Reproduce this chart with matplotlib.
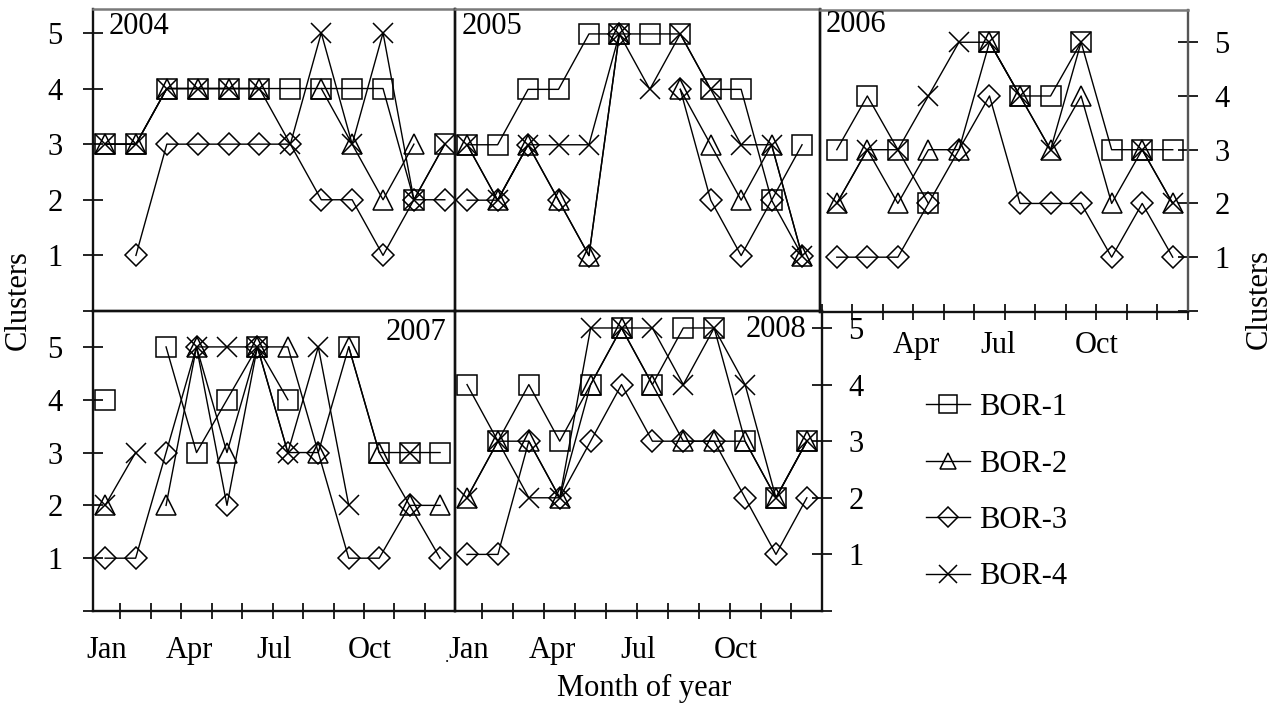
import numpy as np
import matplotlib
matplotlib.use("Agg")
import matplotlib.pyplot as plt
from matplotlib.lines import Line2D

plt.rcParams['font.family'] = ['Liberation Serif', 'DejaVu Serif']

nan = np.nan

# ---------------- data ----------------
months = [1, 2, 3, 4, 5, 6, 7, 8, 9, 10, 11, 12]
series_names = ['BOR-1', 'BOR-2', 'BOR-3', 'BOR-4']
years = ['2004', '2005', '2006', '2007', '2008']
month_labels = ['Jan', 'Apr', 'Jul', 'Oct']
cluster_ticks = [0, 1, 2, 3, 4, 5]
cluster_labels = ['', '1', '2', '3', '4', '5']

bor1_2004 = [3, 3, 4, 4, 4, 4, 4, 4, 4, 4, 2, 3]
bor2_2004 = [3, 3, 4, 4, 4, 4, nan, 4, 3, 2, 3, nan]
bor3_2004 = [nan, 1, 3, 3, 3, 3, 3, 2, 2, 1, 2, 2]
bor4_2004 = [3, 3, 4, 4, 4, 4, 3, 5, 3, 5, 2, 3]

bor1_2005 = [3, 3, 4, 4, 5, 5, 5, 5, 4, 4, 2, 3]
bor2_2005 = [3, 2, 3, 2, 1, 5, nan, 4, 3, 2, 3, 1]
bor3_2005 = [2, 2, 3, 2, 1, 5, nan, 4, 2, 1, 2, 1]
bor4_2005 = [3, 2, 3, 3, 3, 5, 4, 5, 4, 3, 3, 1]

bor1_2006 = [3, 4, 3, 2, nan, 5, 4, 4, 5, 3, 3, 3]
bor2_2006 = [2, 3, 2, 3, 3, 5, 4, 3, 4, 2, 3, 2]
bor3_2006 = [1, 1, 1, 2, 3, 4, 2, 2, 2, 1, 2, 1]
bor4_2006 = [2, 3, 3, 4, 5, 5, 4, 3, 5, nan, 3, 2]

bor1_2007 = [4, nan, 5, 3, 4, 5, 4, nan, 5, 3, 3, 3]
bor2_2007 = [2, nan, 2, 5, 3, 5, 5, 3, 5, 3, 2, 2]
bor3_2007 = [1, 1, 3, 5, 2, 5, 3, 3, 1, 1, 2, 1]
bor4_2007 = [2, 3, nan, 5, 5, 5, 3, 5, 2, nan, 3, nan]

bor1_2008 = [4, 3, 4, 3, 4, 5, 4, 5, 5, 3, 2, 3]
bor2_2008 = [2, 3, 3, 2, 4, 5, 4, 3, 3, 3, 2, 3]
bor3_2008 = [1, 1, 3, 2, 3, 4, 3, 3, 3, 2, 1, 2]
bor4_2008 = [2, 3, 2, 2, 5, 5, 5, 4, 5, 4, 2, 3]

data = {
    '2004': [bor1_2004, bor2_2004, bor3_2004, bor4_2004],
    '2005': [bor1_2005, bor2_2005, bor3_2005, bor4_2005],
    '2006': [bor1_2006, bor2_2006, bor3_2006, bor4_2006],
    '2007': [bor1_2007, bor2_2007, bor3_2007, bor4_2007],
    '2008': [bor1_2008, bor2_2008, bor3_2008, bor4_2008],
}

# ---------------- styling / layout ----------------
W, H = 1282, 710
FS = 22
fig = plt.figure(figsize=(W / 100, H / 100), dpi=100)


def fx(px):
    return px / W


def fy(py):
    return 1 - py / H


# pixel boxes: x0, x1, ytop, ybot
boxes = {
    '2004': (93, 455, 9, 311),
    '2005': (455, 820, 9, 311),
    '2006': (820, 1188, 10, 312),
    '2007': (93, 455, 311, 611),
    '2008': (455, 822, 311, 611),
}
xlims = {
    '2004': (0.61, 12.33),
    '2005': (0.60, 12.59),
    '2006': (0.45, 12.50),
    '2007': (0.60, 12.49),
    '2008': (0.61, 12.49),
}
ylims = {
    '2004': (0.0, 5.43),
    '2005': (0.0, 5.45),
    '2006': (-0.02, 5.60),
    '2007': (0.0, 5.68),
    '2008': (0.01, 5.30),
}
year_pos = {
    '2004': (139, 26),
    '2005': (492, 26),
    '2006': (856, 25),
    '2007': (416, 332),
    '2008': (776, 329),
}
bottom_label_pos = [1.05, 3.78, 6.54, 9.68]
top_label_pos = [3.62, 6.28, 9.51]

markers = ['s', '^', 'D', 'x']
msizes = [15, 14, 11.5, 15]
LW = 1.0
MEW = 1.1
SPINE_LW = 1.7

axes = {}
for yr in years:
    x0, x1, yt, yb = boxes[yr]
    ax = fig.add_axes([fx(x0), fy(yb), (x1 - x0) / W, (yb - yt) / H])
    axes[yr] = ax
    ax.set_xlim(*xlims[yr])
    ax.set_ylim(*ylims[yr])
    for vals, mk, ms in zip(data[yr], markers, msizes):
        ax.plot(months, vals, color='black', lw=LW, marker=mk, ms=ms,
                mfc='none', mec='black', mew=MEW, clip_on=False, zorder=3)
    for sp in ax.spines.values():
        sp.set_linewidth(SPINE_LW)
        sp.set_color('#111111')
    ax.tick_params(axis='both', which='both', labelsize=FS, width=1.3,
                   color='#111111')
    ax.set_facecolor('none')

# top row spines in grey at the very top
for yr in ['2004', '2005', '2006']:
    axes[yr].spines['top'].set_color('#7a7a7a')
    axes[yr].spines['top'].set_linewidth(1.8)
axes['2006'].spines['right'].set_color('#555555')

# y axes
for yr in ['2004', '2007']:
    ax = axes[yr]
    ax.set_yticks(cluster_ticks)
    ax.set_yticklabels(cluster_labels)
    ax.tick_params(axis='y', direction='inout', length=14, pad=15)
for yr in ['2006', '2008']:
    ax = axes[yr]
    ax.yaxis.tick_right()
    ax.set_yticks(cluster_ticks)
    ax.set_yticklabels(cluster_labels)
    ax.tick_params(axis='y', direction='inout', length=14, pad=12,
                   left=False, right=True)
axes['2005'].tick_params(axis='y', left=False, labelleft=False)

# x axes
for yr in ['2004', '2005']:
    axes[yr].tick_params(axis='x', bottom=False, labelbottom=False)

for yr in ['2007', '2008']:
    ax = axes[yr]
    ax.set_xticks(bottom_label_pos)
    ax.set_xticklabels(month_labels)
    ax.set_xticks([m + 0.5 for m in months[:-1]], minor=True)
    ax.tick_params(axis='x', which='major', length=0, pad=18)
    ax.tick_params(axis='x', which='minor', direction='inout', length=12)

ax = axes['2006']
ax.set_xticks(top_label_pos)
ax.set_xticklabels(month_labels[1:])
ax.set_xticks([m - 0.5 for m in months] + [12.5], minor=True)
ax.tick_params(axis='x', which='major', length=0, pad=14)
ax.tick_params(axis='x', which='minor', direction='inout', length=12)

# year labels
for yr in years:
    px, py = year_pos[yr]
    fig.text(fx(px), fy(py), yr, fontsize=FS, ha='center', va='center')

# axis titles
fig.text(fx(18), fy(300), 'Clusters', rotation=90, fontsize=FS,
         ha='center', va='center')
fig.text(fx(1259), fy(299), 'Clusters', rotation=90, fontsize=FS,
         ha='center', va='center')
fig.text(fx(644), fy(688), 'Month of year', fontsize=FS,
         ha='center', va='center')
fig.text(fx(447), fy(658), '.', fontsize=12, ha='center', va='center')

# legend
handles = [Line2D([], [], color='black', lw=LW, marker=mk, ms=ms * 0.85,
                  mfc='none', mec='black', mew=MEW)
           for mk, ms in zip(markers, msizes)]
fig.legend(handles, series_names, loc='upper left',
           bbox_to_anchor=(fx(926), fy(393)), frameon=False, fontsize=FS,
           handlelength=1.45, handletextpad=0.3, labelspacing=0.9,
           borderpad=0, borderaxespad=0)

fig.savefig('out.png', dpi=100)
